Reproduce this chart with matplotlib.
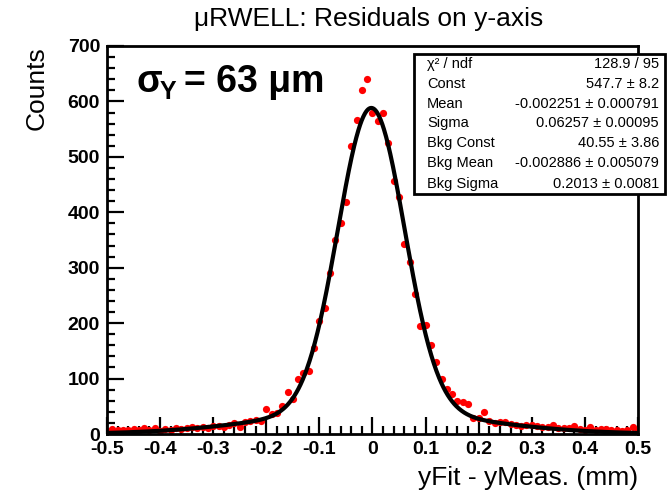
import numpy as np
import matplotlib
matplotlib.use("Agg")
import matplotlib.pyplot as plt
from matplotlib.patches import Rectangle

# ---- data ----
bin_centers = np.round(np.arange(-50, 51) * 0.01, 2)
counts = [
    6, 9, 7, 8, 7, 9, 8, 10, 7, 11,        # -0.50 .. -0.41
    6, 9, 8, 10, 9, 11, 12, 10, 13, 11,    # -0.40 .. -0.31
    15, 14, 12, 17, 19, 13, 22, 24, 25, 24,  # -0.30 .. -0.21
    45, 36, 38, 51, 75, 64, 100, 110, 114, 155,  # -0.20 .. -0.11
    204, 227, 290, 350, 380, 419, 520, 567, 620, 641,  # -0.10 .. -0.01
    579,                                   # 0.00
    564, 579, 525, 457, 428, 342, 311, 253, 195, 197,  # 0.01 .. 0.10
    161, 130, 100, 82, 72, 60, 57, 54, 28, 29,   # 0.11 .. 0.20
    39, 23, 20, 22, 21, 18, 17, 15, 16, 16,      # 0.21 .. 0.30
    15, 13, 12, 16, 11, 10, 11, 15, 9, 8,        # 0.31 .. 0.40
    12, 8, 9, 9, 7, 8, 6, 7, 12, 8,              # 0.41 .. 0.50
]

# fit parameters (double gaussian) from the stats box
fit_const, fit_mean, fit_sigma = 547.7, -0.002251, 0.06257
bkg_const, bkg_mean, bkg_sigma = 40.55, -0.002886, 0.2013

stat_labels = ["χ² / ndf", "Const", "Mean", "Sigma", "Bkg Const", "Bkg Mean", "Bkg Sigma"]
stat_values = ["128.9 / 95", "547.7 ± 8.2", "-0.002251 ± 0.000791",
               "0.06257 ± 0.00095", "40.55 ± 3.86", "-0.002886 ± 0.005079",
               "0.2013 ± 0.0081"]

x_ticks = [-0.5, -0.4, -0.3, -0.2, -0.1, 0, 0.1, 0.2, 0.3, 0.4, 0.5]
x_tick_labels = ["-0.5", "-0.4", "-0.3", "-0.2", "-0.1", "0", "0.1", "0.2", "0.3", "0.4", "0.5"]
y_ticks = [0, 100, 200, 300, 400, 500, 600, 700]

plt.rcParams['font.family'] = ['Liberation Sans', 'DejaVu Sans']

fig = plt.figure(figsize=(6.67, 4.94), dpi=100)
ax = fig.add_axes([107/667, 1-434/494, (638-107)/667, (434-46)/494])

def fitfunc(x):
    return (fit_const * np.exp(-0.5 * ((x - fit_mean) / fit_sigma) ** 2)
            + bkg_const * np.exp(-0.5 * ((x - bkg_mean) / bkg_sigma) ** 2))

xx = np.linspace(-0.5, 0.5, 1000)
ax.plot(bin_centers, counts, 'o', color='#ff0000', markersize=5.2,
        markeredgewidth=0, clip_on=True, zorder=2)
ax.plot(xx, fitfunc(xx), color='black', lw=3.0, zorder=3)

ax.set_xlim(-0.5, 0.5)
ax.set_ylim(0, 700)
ax.set_xticks(x_ticks)
ax.set_xticklabels(x_tick_labels)
ax.set_yticks(y_ticks)
ax.set_xticks(np.arange(-0.5, 0.5001, 0.02), minor=True)
ax.set_yticks(np.arange(0, 701, 20), minor=True)
ax.tick_params(axis='both', which='major', direction='in', length=12, width=1.6,
               labelsize=14, top=False, right=False)
ax.tick_params(axis='both', which='minor', direction='in', length=6, width=1.6,
               top=False, right=False)
ax.tick_params(axis='x', pad=5)
ax.tick_params(axis='y', pad=5)
for lab in ax.get_xticklabels() + ax.get_yticklabels():
    lab.set_fontweight('bold')
for sp in ax.spines.values():
    sp.set_linewidth(2.0)

ax.set_ylabel("Counts", fontsize=19, loc='top', labelpad=14)
fig.text(638/667, 1-478/494, "yFit - yMeas. (mm)", fontsize=19, ha='right', va='center')

fig.text(369/667, 1-19/494, "μRWELL: Residuals on y-axis", fontsize=19,
         ha='center', va='center')

# sigma annotation
fig.text(136/667, 1-82/494, "σ", fontsize=27, fontweight='bold', ha='left', va='center')
fig.text(160/667, 1-92/494, "Y", fontsize=18, fontweight='bold', ha='left', va='center')
fig.text(184/667, 1-82/494, "= 63 μm", fontsize=27, fontweight='bold', ha='left', va='center')

# stats box
bx0, bx1 = 414/667, 665/667
by0, by1 = 1-194/494, 1-54/494
fig.patches.append(Rectangle((bx0, by0), bx1-bx0, by1-by0, transform=fig.transFigure,
                             facecolor='white', edgecolor='black', lw=2.0, zorder=5))
row_y = [64, 84, 104, 123, 143, 163, 184]
for lab, val, yy in zip(stat_labels, stat_values, row_y):
    fig.text(427/667, 1-yy/494, lab, fontsize=10.5, ha='left', va='center', zorder=6)
    fig.text(659/667, 1-yy/494, val, fontsize=10.5, ha='right', va='center', zorder=6)

fig.savefig("out.png", dpi=100)
